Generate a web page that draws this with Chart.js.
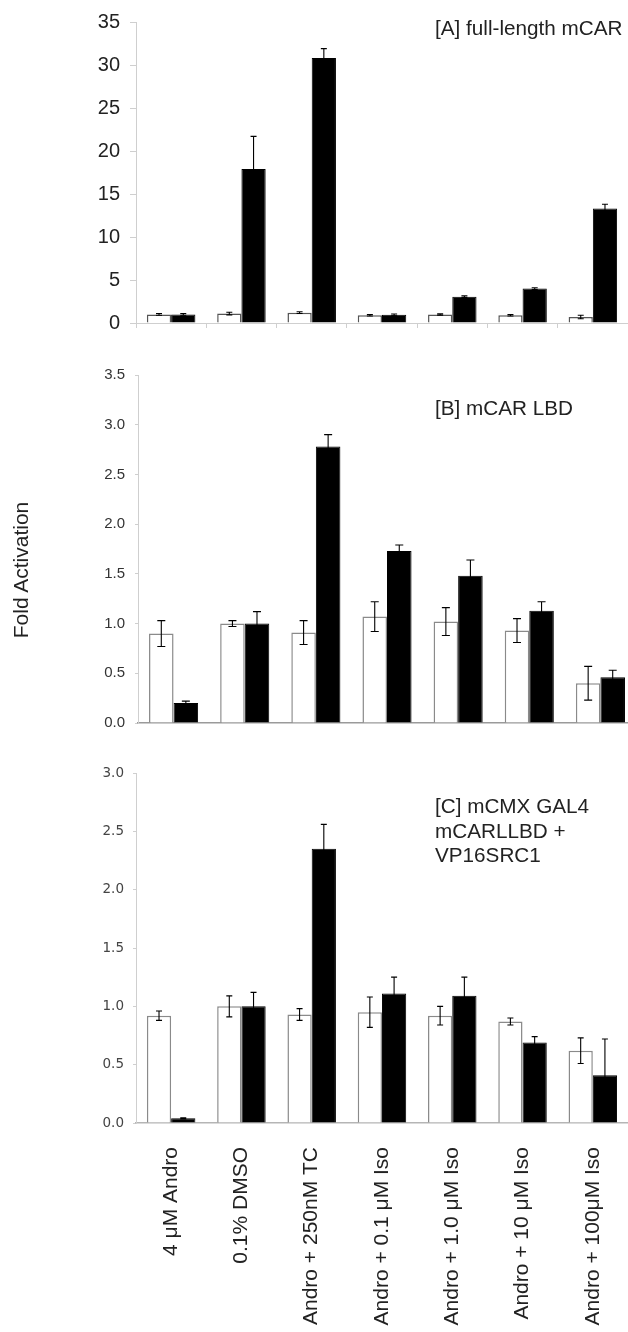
<!DOCTYPE html>
<html>
<head>
<meta charset="utf-8">
<script src="https://cdn.jsdelivr.net/npm/chart.js@4.4.0/dist/chart.umd.min.js"></script>
<style>
  html, body { margin: 0; padding: 0; background: #fff; overflow: hidden; }
  body { position: relative; width: 628px; height: 1332px; }
  canvas { position: absolute; left: 0; }
  .note { position: absolute; left: 435px; font-family: "Liberation Sans", Arial, sans-serif;
          font-size: 20.7px; line-height: 24.5px; color: #222; white-space: nowrap; }
  #ylab { position: absolute; left: -59px; top: 558px; width: 160px; text-align: center;
          font-family: "Liberation Sans", Arial, sans-serif; font-size: 21px; line-height: 24px;
          color: #222; transform: rotate(-90deg); }
</style>
</head>
<body>
<canvas id="chartA" width="628" height="345" style="top:0px"></canvas>
<canvas id="chartB" width="636" height="387" style="top:355px"></canvas>
<canvas id="chartC" width="642" height="579" style="top:753px"></canvas>

<div class="note" style="top:16px">[A] full-length mCAR</div>
<div class="note" style="top:396px">[B] mCAR LBD</div>
<div class="note" style="top:794px">[C] mCMX GAL4<br>mCARLLBD +<br>VP16SRC1</div>
<div id="ylab">Fold Activation</div>

<script>
// categories (x axis)
const categories = ["4 μM Andro", "0.1% DMSO", "Andro + 250nM TC", "Andro + 0.1 μM Iso",
                    "Andro + 1.0 μM Iso", "Andro + 10 μM Iso", "Andro + 100μM Iso"];

// [A] full-length mCAR
const whiteA    = [1.0, 1.1, 1.2, 0.9, 1.0, 0.9, 0.7];
const whiteErrA = [0.1, 0.15, 0.1, 0.08, 0.08, 0.08, 0.2];
const blackA    = [1.0, 17.9, 30.8, 0.95, 3.05, 4.0, 13.3];
const blackErrA = [0.1, 3.8, 1.1, 0.1, 0.1, 0.1, 0.5];
const ticksA    = [0, 5, 10, 15, 20, 25, 30, 35];

// [B] mCAR LBD
const whiteB    = [0.9, 1.0, 0.91, 1.07, 1.02, 0.93, 0.40];
const whiteErrB = [0.13, 0.03, 0.12, 0.15, 0.14, 0.12, 0.17];
const blackB    = [0.2, 1.0, 2.78, 1.73, 1.48, 1.13, 0.46];
const blackErrB = [0.02, 0.12, 0.12, 0.06, 0.16, 0.09, 0.07];
const ticksB    = [0, 0.5, 1.0, 1.5, 2.0, 2.5, 3.0, 3.5];

// [C] mCMX GAL4 mCARLLBD + VP16SRC1
const whiteC    = [0.92, 1.0, 0.93, 0.95, 0.92, 0.87, 0.62];
const whiteErrC = [0.04, 0.09, 0.05, 0.13, 0.08, 0.03, 0.11];
const blackC    = [0.04, 1.0, 2.35, 1.11, 1.09, 0.69, 0.41];
const blackErrC = [0.005, 0.12, 0.21, 0.14, 0.16, 0.05, 0.31];
const ticksC    = [0, 0.5, 1.0, 1.5, 2.0, 2.5, 3.0];

// error bars drawn from each bar's value +/- its error, through the y scale
const errorBars = {
  id: "errorBars",
  afterDatasetsDraw(chart, args, opts) {
    const ctx = chart.ctx;
    const y = chart.scales.y;
    ctx.save();
    ctx.strokeStyle = opts.color || "#000";
    ctx.lineWidth = opts.width || 1.2;
    chart.data.datasets.forEach((ds, i) => {
      chart.getDatasetMeta(i).data.forEach((bar, j) => {
        const v = ds.data[j], e = ds.errors[j];
        const top = y.getPixelForValue(v + e);
        const bot = y.getPixelForValue(Math.max(v - e, 0));
        const c = opts.cap;
        ctx.beginPath();
        ctx.moveTo(bar.x, top); ctx.lineTo(bar.x, bot);
        ctx.moveTo(bar.x - c, top); ctx.lineTo(bar.x + c, top);
        ctx.moveTo(bar.x - c, bot); ctx.lineTo(bar.x + c, bot);
        ctx.stroke();
      });
    });
    ctx.restore();
  }
};

function makePanel(id, white, whiteErr, black, blackErr, ticks, o) {
  return new Chart(document.getElementById(id), {
    type: "bar",
    data: {
      labels: categories,
      datasets: [
        { data: white, errors: whiteErr, backgroundColor: "#fff", borderColor: o.edge, borderWidth: 1.5 },
        { data: black, errors: blackErr, backgroundColor: "#000", borderColor: "#000", borderWidth: 1 }
      ]
    },
    options: {
      responsive: false,
      animation: false,
      layout: { padding: { top: 20, left: 0, right: 0, bottom: 0 } },
      datasets: { bar: { categoryPercentage: 0.69, barPercentage: 1 } },
      plugins: {
        legend: { display: false },
        tooltip: { enabled: false },
        errorBars: { cap: o.cap, color: "#000", width: 1.1 }
      },
      scales: {
        x: o.x,
        y: {
          min: ticks[0],
          max: ticks[ticks.length - 1],
          border: { display: true, color: "#cfcfcf", width: 1 },
          grid: { display: true, drawOnChartArea: false, drawTicks: true, tickLength: o.yTick, color: "#cfcfcf" },
          ticks: {
            stepSize: ticks[1] - ticks[0],
            padding: o.yPad,
            color: o.tickColor,
            font: o.tickFont,
            callback: v => o.dec ? v.toFixed(1) : String(v)
          },
          afterFit: s => { s.width = o.axisLeft; }
        }
      }
    },
    plugins: [errorBars]
  });
}

makePanel("chartA", whiteA, whiteErrA, blackA, blackErrA, ticksA, {
  edge: "#555", cap: 3, yTick: 6, yPad: 10, axisLeft: 136, dec: false,
  tickColor: "#222", tickFont: { family: "Liberation Sans", size: 20 },
  x: {
    border: { display: true, color: "#cfcfcf", width: 1 },
    grid: { display: true, drawOnChartArea: false, drawTicks: true, tickLength: 5, color: "#cfcfcf" },
    ticks: { display: false },
    afterFit: s => { s.height = 7; }
  }
});

makePanel("chartB", whiteB, whiteErrB, blackB, blackErrB, ticksB, {
  edge: "#8a8a8a", cap: 4, yTick: 3, yPad: 10, axisLeft: 138, dec: true,
  tickColor: "#333", tickFont: { family: "Liberation Sans", size: 15 },
  x: {
    border: { display: true, color: "#9a9a9a", width: 1.5 },
    grid: { display: false, drawTicks: false },
    ticks: { display: false },
    afterFit: s => { s.height = 4; }
  }
});

makePanel("chartC", whiteC, whiteErrC, blackC, blackErrC, ticksC, {
  edge: "#8a8a8a", cap: 3, yTick: 3, yPad: 9, axisLeft: 136, dec: true,
  tickColor: "#444", tickFont: { family: "DejaVu Sans", size: 13.5 },
  x: {
    border: { display: true, color: "#b5b5b5", width: 1.5 },
    grid: { display: false, drawTicks: false },
    ticks: {
      autoSkip: false, minRotation: 90, maxRotation: 90, padding: 24,
      color: "#222", font: { family: "Liberation Sans", size: 21 }
    },
    afterFit: s => { s.height = 209; }
  }
});
</script>
</body>
</html>
